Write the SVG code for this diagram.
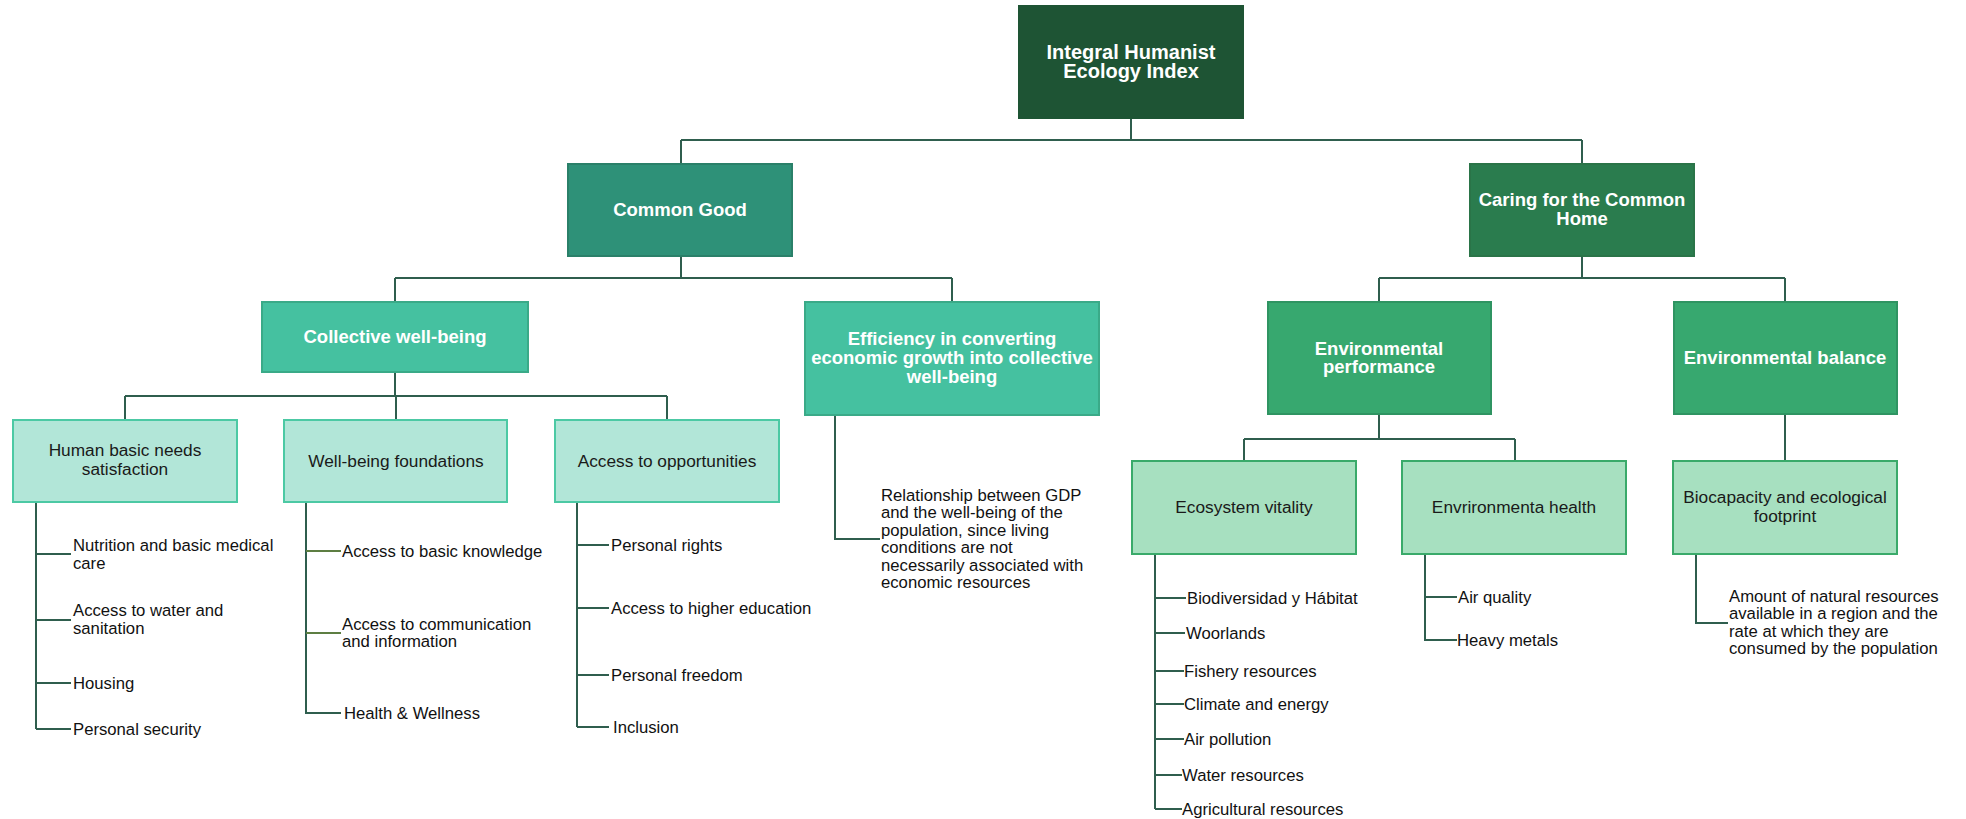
<svg xmlns="http://www.w3.org/2000/svg" width="1966" height="819" viewBox="0 0 1966 819">
  <style>
    .ln { fill: none; stroke: #2f5e4e; stroke-width: 2; }
    .ln-ol { fill: none; stroke: #5d7e42; stroke-width: 2; }
    .bx { stroke-width: 2; }
    .root { fill: #1e5434; stroke: #1e5434; }
    .l2a { fill: #2e9178; stroke: #2a8069; }
    .l2b { fill: #2a7c4e; stroke: #2a7448; }
    .l3a { fill: #45c1a0; stroke: #3aaa88; }
    .l3b { fill: #37a86f; stroke: #2f9462; }
    .l4a { fill: #b2e6d8; stroke: #4cc9a4; }
    .l4b { fill: #a7e0c0; stroke: #3aaa6a; }
    .tb { font-family: "Liberation Sans", Arial, sans-serif; font-weight: bold; fill: #ffffff; text-anchor: middle; font-size: 18.5px; }
    .tr { font-family: "Liberation Sans", Arial, sans-serif; fill: #1a1a1a; text-anchor: middle; font-size: 17.3px; }
    .lf { font-family: "Liberation Sans", Arial, sans-serif; fill: #111111; font-size: 16.7px; }
  </style>

  <!-- connectors -->
  <g id="connectors">
    <path class="ln" d="M1131 118 V140 M681 140 H1582 M681 140 V164 M1582 140 V164"/>
    <path class="ln" d="M681 256 V278 M395 278 H952 M395 278 V302 M952 278 V302"/>
    <path class="ln" d="M1582 256 V278 M1379 278 H1785 M1379 278 V302 M1785 278 V302"/>
    <path class="ln" d="M395 372 V396 M125 396 H667 M125 396 V420 M396 396 V420 M667 396 V420"/>
    <path class="ln" d="M1379 414 V439 M1244 439 H1515 M1244 439 V461 M1515 439 V461"/>
    <path class="ln" d="M1785 414 V461"/>
    <!-- leaf lists -->
    <path class="ln" d="M36 502 V729 M36 554 H71 M36 620 H71 M36 683 H71 M36 729 H71"/>
    <path class="ln" d="M306 502 V713 H341"/>
    <path class="ln-ol" d="M306 551 H341 M306 633 H341"/>
    <path class="ln" d="M577 502 V727 M577 545 H609 M577 608 H609 M577 675 H609 M577 727 H609"/>
    <path class="ln" d="M835 415 V539 H880"/>
    <path class="ln" d="M1155 554 V809 M1155 598 H1186 M1155 633 H1185 M1155 671 H1184 M1155 704 H1184 M1155 739 H1184 M1155 775 H1182 M1155 809 H1182"/>
    <path class="ln" d="M1425 554 V640 H1457 M1425 597 H1457"/>
    <path class="ln" d="M1696 554 V623 H1728"/>
  </g>

  <g id="root">
    <rect class="bx root" x="1019" y="6" width="224" height="112"/>
    <text class="tb" x="1131" y="59" style="font-size:20px">Integral Humanist</text>
    <text class="tb" x="1131" y="78" style="font-size:20px">Ecology Index</text>
  </g>

  <g id="common-good">
    <rect class="bx l2a" x="568" y="164" width="224" height="92"/>
    <text class="tb" x="680" y="216">Common Good</text>
  </g>

  <g id="caring-common-home">
    <rect class="bx l2b" x="1470" y="164" width="224" height="92"/>
    <text class="tb" x="1582" y="206">Caring for the Common</text>
    <text class="tb" x="1582" y="225">Home</text>
  </g>

  <g id="collective-well-being">
    <rect class="bx l3a" x="262" y="302" width="266" height="70"/>
    <text class="tb" x="395" y="343">Collective well-being</text>
  </g>

  <g id="efficiency">
    <rect class="bx l3a" x="805" y="302" width="294" height="113"/>
    <text class="tb" x="952" y="345">Efficiency in converting</text>
    <text class="tb" x="952" y="364">economic growth into collective</text>
    <text class="tb" x="952" y="383">well-being</text>
  </g>

  <g id="environmental-performance">
    <rect class="bx l3b" x="1268" y="302" width="223" height="112"/>
    <text class="tb" x="1379" y="355">Environmental</text>
    <text class="tb" x="1379" y="373">performance</text>
  </g>

  <g id="environmental-balance">
    <rect class="bx l3b" x="1674" y="302" width="223" height="112"/>
    <text class="tb" x="1785" y="364">Environmental balance</text>
  </g>

  <g id="human-basic-needs">
    <rect class="bx l4a" x="13" y="420" width="224" height="82"/>
    <text class="tr" x="125" y="456">Human basic needs</text>
    <text class="tr" x="125" y="475">satisfaction</text>
  </g>

  <g id="well-being-foundations">
    <rect class="bx l4a" x="284" y="420" width="223" height="82"/>
    <text class="tr" x="396" y="467">Well-being  foundations</text>
  </g>

  <g id="access-opportunities">
    <rect class="bx l4a" x="555" y="420" width="224" height="82"/>
    <text class="tr" x="667" y="467">Access to opportunities</text>
  </g>

  <g id="ecosystem-vitality">
    <rect class="bx l4b" x="1132" y="461" width="224" height="93"/>
    <text class="tr" x="1244" y="513">Ecosystem vitality</text>
  </g>

  <g id="environmental-health">
    <rect class="bx l4b" x="1402" y="461" width="224" height="93"/>
    <text class="tr" x="1514" y="513">Envrironmenta  health</text>
  </g>

  <g id="biocapacity">
    <rect class="bx l4b" x="1673" y="461" width="224" height="93"/>
    <text class="tr" x="1785" y="503">Biocapacity and  ecological</text>
    <text class="tr" x="1785" y="522">footprint</text>
  </g>

  <!-- leaf items -->
  <g id="human-basic-needs-items">
    <text class="lf" x="73" y="551">Nutrition and basic medical</text>
    <text class="lf" x="73" y="569">care</text>
    <text class="lf" x="73" y="616">Access to water and</text>
    <text class="lf" x="73" y="634">sanitation</text>
    <text class="lf" x="73" y="689">Housing</text>
    <text class="lf" x="73" y="735">Personal security</text>
  </g>

  <g id="well-being-foundations-items">
    <text class="lf" x="342" y="557">Access to basic knowledge</text>
    <text class="lf" x="342" y="630">Access to communication</text>
    <text class="lf" x="342" y="647">and  information</text>
    <text class="lf" x="344" y="719">Health &amp; Wellness</text>
  </g>

  <g id="access-opportunities-items">
    <text class="lf" x="611" y="551">Personal rights</text>
    <text class="lf" x="611" y="614">Access to higher education</text>
    <text class="lf" x="611" y="681">Personal freedom</text>
    <text class="lf" x="613" y="733">Inclusion</text>
  </g>

  <g id="efficiency-items">
    <text class="lf" x="881" y="501">Relationship between GDP</text>
    <text class="lf" x="881" y="518">and  the well-being  of the</text>
    <text class="lf" x="881" y="536">population,  since living</text>
    <text class="lf" x="881" y="553">conditions are not</text>
    <text class="lf" x="881" y="571">necessarily associated with</text>
    <text class="lf" x="881" y="588">economic resources</text>
  </g>

  <g id="ecosystem-vitality-items">
    <text class="lf" x="1187" y="604">Biodiversidad y Hábitat</text>
    <text class="lf" x="1186" y="639">Woorlands</text>
    <text class="lf" x="1184" y="677">Fishery resources</text>
    <text class="lf" x="1184" y="710">Climate and  energy</text>
    <text class="lf" x="1184" y="745">Air pollution</text>
    <text class="lf" x="1182" y="781">Water resources</text>
    <text class="lf" x="1182" y="815">Agricultural  resources</text>
  </g>

  <g id="environmental-health-items">
    <text class="lf" x="1458" y="603">Air quality</text>
    <text class="lf" x="1457" y="646">Heavy metals</text>
  </g>

  <g id="biocapacity-items">
    <text class="lf" x="1729" y="602">Amount  of natural resources</text>
    <text class="lf" x="1729" y="619">available in a region and the</text>
    <text class="lf" x="1729" y="637">rate at which they are</text>
    <text class="lf" x="1729" y="654">consumed  by the population</text>
  </g>
</svg>
